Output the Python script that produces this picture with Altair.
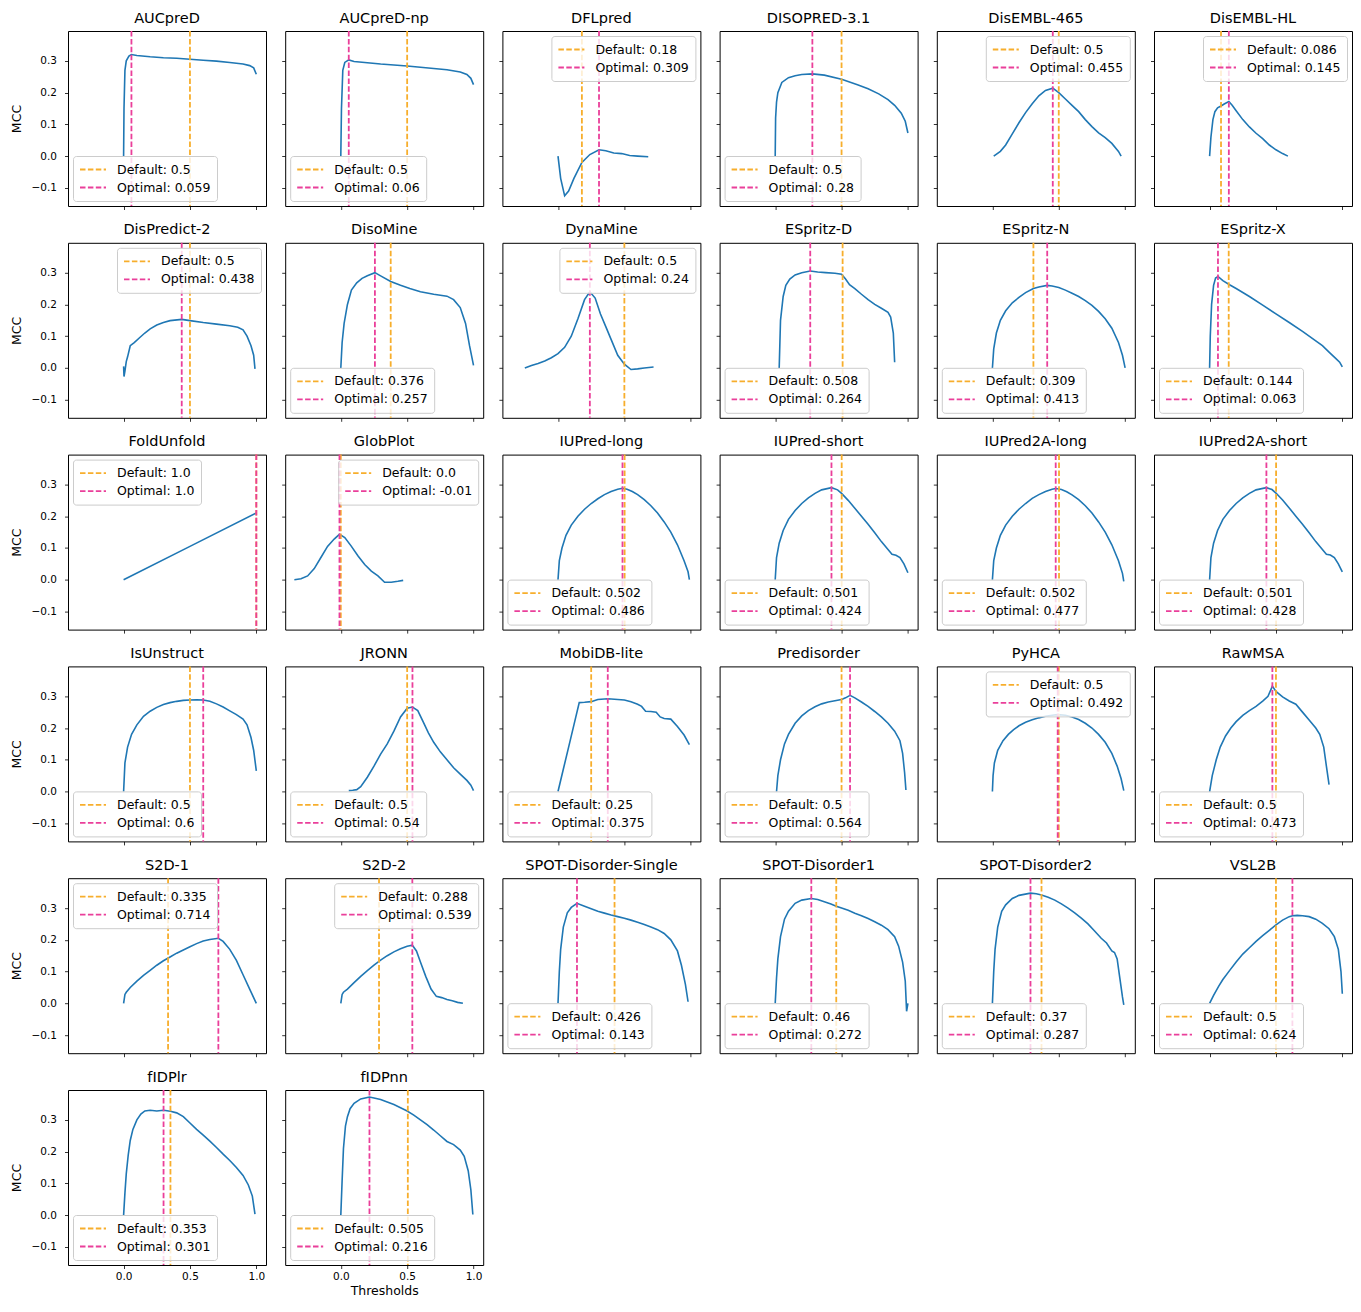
import altair as alt
import pandas as pd

NAMES = ["AUCpreD", "AUCpreD-np", "DFLpred", "DISOPRED-3.1", "DisEMBL-465", "DisEMBL-HL",
         "DisPredict-2", "DisoMine", "DynaMine", "ESpritz-D", "ESpritz-N", "ESpritz-X",
         "FoldUnfold", "GlobPlot", "IUPred-long", "IUPred-short", "IUPred2A-long", "IUPred2A-short",
         "IsUnstruct", "JRONN", "MobiDB-lite", "Predisorder", "PyHCA", "RawMSA",
         "S2D-1", "S2D-2", "SPOT-Disorder-Single", "SPOT-Disorder1", "SPOT-Disorder2", "VSL2B",
         "fIDPlr", "fIDPnn"]
DEFAULTS = [0.5, 0.5, 0.18, 0.5, 0.5, 0.086,
            0.5, 0.376, 0.5, 0.508, 0.309, 0.144,
            1.0, 0.0, 0.502, 0.501, 0.502, 0.501,
            0.5, 0.5, 0.25, 0.5, 0.5, 0.5,
            0.335, 0.288, 0.426, 0.46, 0.37, 0.5,
            0.353, 0.505]
OPTIMALS = [0.059, 0.06, 0.309, 0.28, 0.455, 0.145,
            0.438, 0.257, 0.24, 0.264, 0.413, 0.063,
            1.0, -0.01, 0.486, 0.424, 0.477, 0.428,
            0.6, 0.54, 0.375, 0.564, 0.492, 0.473,
            0.714, 0.539, 0.143, 0.272, 0.287, 0.624,
            0.301, 0.216]
LEGEND_LOC = ["ll", "ll", "ur", "ll", "ur", "ur",
              "ur", "ll", "ur", "ll", "ll", "ll",
              "ul", "ur", "ll", "ll", "ll", "ll",
              "ll", "ll", "ll", "ll", "ur", "ll",
              "ul", "ur", "ll", "ll", "ll", "ll",
              "ll", "ll"]

x_aucpred = [0.0, 0.003, 0.01, 0.02, 0.04, 0.059, 0.1, 0.2, 0.3, 0.4, 0.5, 0.6, 0.7, 0.8, 0.9, 0.95, 0.98, 1.0]
y_aucpred = [0.0, 0.15, 0.27, 0.30, 0.315, 0.32, 0.317, 0.313, 0.31, 0.308, 0.305, 0.302, 0.299, 0.295, 0.29, 0.285, 0.278, 0.258]
x_aucpred_np = [0.0, 0.005, 0.015, 0.03, 0.06, 0.1, 0.2, 0.3, 0.4, 0.5, 0.6, 0.7, 0.8, 0.9, 0.95, 0.98, 1.0]
y_aucpred_np = [0.0, 0.15, 0.27, 0.295, 0.303, 0.298, 0.294, 0.29, 0.287, 0.284, 0.28, 0.276, 0.272, 0.265, 0.257, 0.245, 0.225]
x_dflpred = [0.0, 0.02, 0.05, 0.08, 0.12, 0.18, 0.24, 0.309, 0.36, 0.42, 0.48, 0.54, 0.6, 0.68]
y_dflpred = [0.0, -0.07, -0.125, -0.11, -0.07, -0.02, 0.005, 0.02, 0.017, 0.01, 0.008, 0.002, 0.0, -0.002]
x_disopred = [0.0, 0.003, 0.01, 0.02, 0.05, 0.1, 0.15, 0.2, 0.28, 0.37, 0.5, 0.62, 0.7, 0.78, 0.85, 0.9, 0.95, 0.98, 1.0]
y_disopred = [0.0, 0.12, 0.17, 0.2, 0.232, 0.247, 0.253, 0.257, 0.259, 0.255, 0.242, 0.225, 0.212, 0.196, 0.178, 0.16, 0.135, 0.11, 0.073]
x_disembl465 = [0.01, 0.06, 0.1, 0.15, 0.2, 0.25, 0.3, 0.35, 0.4, 0.455, 0.5, 0.55, 0.6, 0.65, 0.7, 0.75, 0.8, 0.85, 0.9, 0.95, 0.97]
y_disembl465 = [0.0, 0.015, 0.035, 0.07, 0.105, 0.137, 0.165, 0.19, 0.207, 0.214, 0.2, 0.18, 0.16, 0.14, 0.115, 0.093, 0.073, 0.058, 0.04, 0.015, 0.0]
x_disemblhl = [0.0, 0.01, 0.025, 0.04, 0.06, 0.086, 0.11, 0.145, 0.17, 0.2, 0.25, 0.3, 0.35, 0.4, 0.45, 0.5, 0.55, 0.59]
y_disemblhl = [0.0, 0.06, 0.115, 0.14, 0.152, 0.158, 0.164, 0.172, 0.16, 0.143, 0.115, 0.092, 0.072, 0.055, 0.035, 0.02, 0.008, 0.0]
x_dispredict2 = [0.0, 0.003, 0.01, 0.02, 0.03, 0.05, 0.08, 0.12, 0.16, 0.2, 0.25, 0.3, 0.35, 0.438, 0.5, 0.6, 0.7, 0.8, 0.86, 0.9, 0.93, 0.96, 0.98, 0.99]
y_dispredict2 = [0.005, -0.027, -0.01, 0.02, 0.035, 0.07, 0.08, 0.095, 0.11, 0.123, 0.135, 0.143, 0.149, 0.153, 0.149, 0.143, 0.138, 0.133, 0.128, 0.12, 0.1, 0.07, 0.04, -0.003]
x_disomine = [0.0, 0.01, 0.025, 0.05, 0.08, 0.12, 0.16, 0.2, 0.257, 0.3, 0.376, 0.45, 0.52, 0.6, 0.7, 0.8, 0.85, 0.9, 0.94, 0.97, 1.0]
y_disomine = [0.0, 0.08, 0.14, 0.2, 0.245, 0.268, 0.282, 0.29, 0.3, 0.29, 0.272, 0.26, 0.25, 0.24, 0.232, 0.226, 0.215, 0.19, 0.14, 0.07, 0.008]
x_dynamine = [-0.25, -0.2, -0.15, -0.1, -0.05, 0.0, 0.05, 0.1, 0.15, 0.2, 0.24, 0.28, 0.32, 0.36, 0.4, 0.45, 0.5, 0.55, 0.6, 0.65, 0.72]
y_dynamine = [0.0, 0.008, 0.014, 0.022, 0.032, 0.045, 0.065, 0.1, 0.155, 0.215, 0.24, 0.22, 0.17, 0.13, 0.09, 0.04, 0.012, -0.005, -0.003, 0.0, 0.003]
x_espritzd = [0.03, 0.04, 0.06, 0.08, 0.11, 0.15, 0.2, 0.264, 0.32, 0.38, 0.45, 0.5, 0.53, 0.56, 0.6, 0.65, 0.7, 0.75, 0.8, 0.85, 0.87, 0.89, 0.9]
y_espritzd = [0.0, 0.15, 0.225, 0.26, 0.28, 0.293, 0.3, 0.305, 0.302, 0.3, 0.298, 0.295, 0.28, 0.262, 0.25, 0.232, 0.215, 0.2, 0.188, 0.175, 0.16, 0.11, 0.018]
x_espritzn = [0.0, 0.01, 0.03, 0.06, 0.1, 0.15, 0.2, 0.25, 0.309, 0.35, 0.413, 0.45, 0.5, 0.55, 0.6, 0.65, 0.7, 0.75, 0.8, 0.85, 0.9, 0.95, 0.98, 1.0]
y_espritzn = [0.0, 0.06, 0.11, 0.15, 0.18, 0.205, 0.222, 0.237, 0.25, 0.255, 0.26, 0.258, 0.253, 0.245, 0.235, 0.225, 0.212, 0.197, 0.178, 0.155, 0.125, 0.08, 0.04, 0.0]
x_espritzx = [0.0, 0.005, 0.015, 0.03, 0.045, 0.063, 0.1, 0.15, 0.2, 0.3, 0.4, 0.5, 0.6, 0.7, 0.8, 0.85, 0.9, 0.95, 0.98, 1.0]
y_espritzx = [0.0, 0.1, 0.2, 0.26, 0.283, 0.288, 0.275, 0.262, 0.25, 0.225, 0.198, 0.17, 0.143, 0.115, 0.085, 0.07, 0.05, 0.03, 0.018, 0.003]
x_foldunfold = [0.0, 0.5, 1.0]
y_foldunfold = [0.0, 0.105, 0.21]
x_globplot = [-0.35, -0.3, -0.25, -0.2, -0.15, -0.1, -0.05, -0.01, 0.03, 0.08, 0.13, 0.18, 0.23, 0.28, 0.33, 0.38, 0.43, 0.47]
y_globplot = [0.0, 0.003, 0.012, 0.035, 0.07, 0.105, 0.128, 0.143, 0.133, 0.105, 0.075, 0.048, 0.027, 0.012, -0.008, -0.008, -0.005, -0.002]
x_iupredlong = [0.0, 0.01, 0.03, 0.06, 0.1, 0.15, 0.2, 0.25, 0.3, 0.35, 0.4, 0.45, 0.486, 0.52, 0.56, 0.6, 0.65, 0.7, 0.75, 0.8, 0.85, 0.9, 0.95, 0.98, 0.99]
y_iupredlong = [0.0, 0.06, 0.1, 0.14, 0.172, 0.2, 0.222, 0.24, 0.255, 0.268, 0.278, 0.285, 0.288, 0.285, 0.278, 0.268, 0.252, 0.233, 0.21, 0.182, 0.15, 0.11, 0.06, 0.025, 0.0]
x_iupredshort = [0.0, 0.01, 0.03, 0.06, 0.1, 0.15, 0.2, 0.25, 0.3, 0.35, 0.424, 0.47, 0.5, 0.55, 0.6, 0.65, 0.7, 0.75, 0.8, 0.85, 0.88, 0.91, 0.94, 0.97, 1.0]
y_iupredshort = [0.0, 0.07, 0.115, 0.155, 0.19, 0.218, 0.24, 0.258, 0.272, 0.283, 0.29, 0.283, 0.272, 0.25, 0.225, 0.2, 0.175, 0.148, 0.12, 0.095, 0.08, 0.077, 0.07, 0.05, 0.022]
x_iupred2along = [0.0, 0.01, 0.03, 0.06, 0.1, 0.15, 0.2, 0.25, 0.3, 0.35, 0.4, 0.45, 0.477, 0.52, 0.56, 0.6, 0.65, 0.7, 0.75, 0.8, 0.85, 0.9, 0.95, 0.98, 0.99]
y_iupred2along = [0.0, 0.06, 0.1, 0.14, 0.172, 0.2, 0.222, 0.24, 0.256, 0.268, 0.278, 0.285, 0.287, 0.284, 0.277, 0.267, 0.252, 0.233, 0.21, 0.182, 0.15, 0.11, 0.06, 0.02, -0.005]
x_iupred2ashort = [0.0, 0.01, 0.03, 0.06, 0.1, 0.15, 0.2, 0.25, 0.3, 0.35, 0.428, 0.47, 0.5, 0.55, 0.6, 0.65, 0.7, 0.75, 0.8, 0.85, 0.88, 0.91, 0.94, 0.97, 1.0]
y_iupred2ashort = [0.0, 0.07, 0.115, 0.155, 0.19, 0.218, 0.24, 0.258, 0.272, 0.283, 0.29, 0.284, 0.273, 0.251, 0.226, 0.2, 0.175, 0.148, 0.12, 0.095, 0.08, 0.078, 0.07, 0.05, 0.025]
x_isunstruct = [0.0, 0.01, 0.03, 0.06, 0.1, 0.15, 0.2, 0.25, 0.3, 0.35, 0.4, 0.45, 0.5, 0.55, 0.6, 0.65, 0.7, 0.75, 0.8, 0.85, 0.9, 0.93, 0.96, 0.98, 1.0]
y_isunstruct = [0.0, 0.09, 0.14, 0.18, 0.21, 0.237, 0.253, 0.265, 0.274, 0.28, 0.284, 0.287, 0.288, 0.289, 0.288, 0.284, 0.276, 0.266, 0.254, 0.242, 0.228, 0.21, 0.17, 0.13, 0.065]
x_jronn = [0.06, 0.09, 0.12, 0.15, 0.2, 0.25, 0.3, 0.35, 0.4, 0.45, 0.5, 0.54, 0.58, 0.62, 0.66, 0.7, 0.75, 0.8, 0.85, 0.9, 0.95, 0.98, 1.0]
y_jronn = [0.003, 0.004, 0.006, 0.015, 0.045, 0.08, 0.118, 0.15, 0.19, 0.235, 0.262, 0.266, 0.255, 0.22, 0.185, 0.155, 0.125, 0.1, 0.075, 0.055, 0.035, 0.02, 0.003]
x_mobidblite = [0.0, 0.04, 0.08, 0.12, 0.16, 0.2, 0.25, 0.3, 0.375, 0.45, 0.5, 0.55, 0.6, 0.63, 0.66, 0.7, 0.74, 0.77, 0.8, 0.85, 0.9, 0.95, 0.99]
y_mobidblite = [0.0, 0.07, 0.14, 0.21, 0.28, 0.281, 0.283, 0.29, 0.292, 0.29, 0.288, 0.283, 0.275, 0.268, 0.253, 0.252, 0.25, 0.235, 0.23, 0.228, 0.205, 0.178, 0.148]
x_predisorder = [0.01, 0.02, 0.04, 0.07, 0.1, 0.15, 0.2, 0.25, 0.3, 0.35, 0.4, 0.45, 0.5, 0.53, 0.564, 0.6, 0.65, 0.7, 0.75, 0.8, 0.85, 0.9, 0.94, 0.96, 0.975, 0.985]
y_predisorder = [0.0, 0.05, 0.1, 0.15, 0.18, 0.215, 0.238, 0.255, 0.267, 0.276, 0.282, 0.286, 0.29, 0.295, 0.303, 0.295, 0.282, 0.268, 0.252, 0.235, 0.215, 0.19, 0.16, 0.12, 0.06, 0.005]
x_pyhca = [0.0, 0.005, 0.015, 0.04, 0.08, 0.12, 0.16, 0.2, 0.25, 0.3, 0.35, 0.4, 0.45, 0.492, 0.55, 0.6, 0.65, 0.7, 0.75, 0.8, 0.85, 0.9, 0.94, 0.97, 0.99]
y_pyhca = [0.0, 0.05, 0.09, 0.13, 0.16, 0.18, 0.195, 0.207, 0.218, 0.226, 0.232, 0.237, 0.24, 0.242, 0.24, 0.235, 0.227, 0.215, 0.2, 0.18, 0.155, 0.12, 0.08, 0.04, 0.003]
x_rawmsa = [0.0, 0.02, 0.05, 0.08, 0.12, 0.16, 0.2, 0.25, 0.3, 0.35, 0.4, 0.44, 0.473, 0.5, 0.55, 0.6, 0.65, 0.7, 0.75, 0.8, 0.83, 0.86, 0.88, 0.9]
y_rawmsa = [0.0, 0.05, 0.1, 0.14, 0.175, 0.2, 0.22, 0.24, 0.255, 0.268, 0.285, 0.3, 0.332, 0.315, 0.298, 0.285, 0.275, 0.25, 0.225, 0.2, 0.18, 0.14, 0.08, 0.022]
x_s2d1 = [0.0, 0.01, 0.02, 0.05, 0.1, 0.15, 0.2, 0.25, 0.3, 0.35, 0.4, 0.45, 0.5, 0.55, 0.6, 0.65, 0.714, 0.75, 0.8, 0.85, 0.9, 0.95, 1.0]
y_s2d1 = [0.0, 0.028, 0.035, 0.05, 0.07, 0.088, 0.104, 0.12, 0.134, 0.146, 0.158, 0.168, 0.178, 0.188, 0.196, 0.201, 0.205, 0.195, 0.17, 0.135, 0.09, 0.045, 0.0]
x_s2d2 = [0.0, 0.01, 0.02, 0.05, 0.1, 0.15, 0.2, 0.25, 0.3, 0.35, 0.4, 0.45, 0.5, 0.539, 0.57, 0.6, 0.64, 0.68, 0.72, 0.76, 0.8, 0.84, 0.88, 0.92]
y_s2d2 = [0.0, 0.028, 0.035, 0.045, 0.065, 0.085, 0.103, 0.12, 0.136, 0.15, 0.162, 0.172, 0.18, 0.183, 0.165, 0.13, 0.085, 0.045, 0.022, 0.018, 0.012, 0.008, 0.003, 0.0]
x_spotsingle = [0.0, 0.01, 0.02, 0.04, 0.07, 0.1, 0.143, 0.2, 0.25, 0.3, 0.35, 0.4, 0.45, 0.5, 0.55, 0.6, 0.65, 0.7, 0.75, 0.8, 0.85, 0.9, 0.93, 0.96, 0.98]
y_spotsingle = [0.0, 0.1, 0.17, 0.24, 0.285, 0.302, 0.315, 0.306, 0.298, 0.29, 0.284, 0.278, 0.273, 0.268, 0.262, 0.255, 0.248, 0.24, 0.232, 0.22, 0.2, 0.165, 0.12, 0.06, 0.005]
x_spot1 = [0.0, 0.01, 0.02, 0.04, 0.07, 0.1, 0.15, 0.2, 0.272, 0.32, 0.37, 0.42, 0.46, 0.5, 0.55, 0.6, 0.65, 0.7, 0.75, 0.8, 0.85, 0.9, 0.93, 0.96, 0.98, 0.99, 1.0]
y_spot1 = [0.0, 0.08, 0.14, 0.21, 0.265, 0.29, 0.315, 0.325, 0.33, 0.327, 0.32, 0.313, 0.306, 0.3, 0.293, 0.284, 0.276, 0.267, 0.257, 0.246, 0.232, 0.21, 0.18, 0.13, 0.07, -0.025, 0.0]
x_spot2 = [0.0, 0.01, 0.02, 0.04, 0.07, 0.1, 0.15, 0.2, 0.287, 0.33, 0.37, 0.42, 0.47, 0.52, 0.57, 0.62, 0.67, 0.72, 0.77, 0.82, 0.86, 0.9, 0.92, 0.94, 0.96, 0.98, 0.99]
y_spot2 = [0.0, 0.1, 0.17, 0.24, 0.29, 0.31, 0.33, 0.34, 0.347, 0.345, 0.341, 0.334, 0.325, 0.313, 0.3, 0.285, 0.268, 0.25, 0.228, 0.205, 0.19, 0.165, 0.16, 0.14, 0.08, 0.02, -0.005]
x_vsl2b = [0.0, 0.03, 0.07, 0.1, 0.15, 0.2, 0.25, 0.3, 0.35, 0.4, 0.45, 0.5, 0.55, 0.6, 0.624, 0.66, 0.7, 0.75, 0.8, 0.85, 0.9, 0.94, 0.97, 0.99, 1.0]
y_vsl2b = [0.0, 0.025, 0.055, 0.075, 0.103, 0.13, 0.155, 0.175, 0.195, 0.213, 0.23, 0.247, 0.262, 0.273, 0.276, 0.277, 0.276, 0.273, 0.265, 0.252, 0.235, 0.21, 0.17, 0.1, 0.03]
x_fidplr = [0.0, 0.01, 0.02, 0.035, 0.05, 0.07, 0.1, 0.13, 0.16, 0.2, 0.25, 0.301, 0.353, 0.4, 0.45, 0.5, 0.55, 0.6, 0.65, 0.7, 0.75, 0.8, 0.85, 0.9, 0.94, 0.97, 0.99]
y_fidplr = [0.0, 0.07, 0.13, 0.19, 0.235, 0.27, 0.3, 0.318, 0.328, 0.33, 0.328, 0.33, 0.327, 0.322, 0.31, 0.29, 0.27, 0.252, 0.233, 0.213, 0.192, 0.172, 0.15, 0.125, 0.095, 0.06, 0.003]
x_fidpnn = [0.0, 0.01, 0.02, 0.035, 0.05, 0.07, 0.1, 0.15, 0.216, 0.25, 0.3, 0.35, 0.4, 0.45, 0.5, 0.55, 0.6, 0.65, 0.7, 0.75, 0.8, 0.85, 0.9, 0.93, 0.96, 0.98, 0.995]
y_fidpnn = [0.0, 0.11, 0.21, 0.28, 0.31, 0.335, 0.352, 0.366, 0.372, 0.369, 0.364, 0.356, 0.348, 0.338, 0.328, 0.315, 0.3, 0.285, 0.268, 0.25, 0.232, 0.222, 0.205, 0.185, 0.14, 0.08, 0.002]

CURVES = [(x_aucpred, y_aucpred), (x_aucpred_np, y_aucpred_np), (x_dflpred, y_dflpred),
          (x_disopred, y_disopred), (x_disembl465, y_disembl465), (x_disemblhl, y_disemblhl),
          (x_dispredict2, y_dispredict2), (x_disomine, y_disomine), (x_dynamine, y_dynamine),
          (x_espritzd, y_espritzd), (x_espritzn, y_espritzn), (x_espritzx, y_espritzx),
          (x_foldunfold, y_foldunfold), (x_globplot, y_globplot), (x_iupredlong, y_iupredlong),
          (x_iupredshort, y_iupredshort), (x_iupred2along, y_iupred2along), (x_iupred2ashort, y_iupred2ashort),
          (x_isunstruct, y_isunstruct), (x_jronn, y_jronn), (x_mobidblite, y_mobidblite),
          (x_predisorder, y_predisorder), (x_pyhca, y_pyhca), (x_rawmsa, y_rawmsa),
          (x_s2d1, y_s2d1), (x_s2d2, y_s2d2), (x_spotsingle, y_spotsingle),
          (x_spot1, y_spot1), (x_spot2, y_spot2), (x_vsl2b, y_vsl2b),
          (x_fidplr, y_fidplr), (x_fidpnn, y_fidpnn)]

X_DOMAIN = [-0.419, 1.073]
Y_DOMAIN = [-0.157, 0.394]
X_TICKS = [0.0, 0.5, 1.0]
Y_TICKS = [-0.1, 0.0, 0.1, 0.2, 0.3]

LINE_COLOR = "#1f77b4"
DEFAULT_COLOR = "#f7ae2c"
OPTIMAL_COLOR = "#ea3f9a"
ORIENT = {"ll": "bottom-left", "ur": "top-right", "ul": "top-left"}
FONT = "DejaVu Sans"
NCOLS = 6
N = len(NAMES)

panels = []
for i, name in enumerate(NAMES):
    xs, ys = CURVES[i]
    col = i % NCOLS
    bottom = i >= N - 2
    curve_df = pd.DataFrame({"t": xs, "mcc": ys})
    lab_d = f"Default: {DEFAULTS[i]}"
    lab_o = f"Optimal: {OPTIMALS[i]}"
    rule_df = pd.DataFrame({"t": [DEFAULTS[i], OPTIMALS[i]], "lab": [lab_d, lab_o]})

    x_axis = alt.Axis(values=X_TICKS, format=".1f", labels=bottom,
                      title="Thresholds" if i == N - 1 else None)
    y_axis = alt.Axis(values=Y_TICKS, format=".1f", labels=(col == 0),
                      title="MCC" if col == 0 else None)
    x_scale = alt.Scale(domain=X_DOMAIN, nice=False, zero=False)
    y_scale = alt.Scale(domain=Y_DOMAIN, nice=False, zero=False)

    line = alt.Chart(curve_df).mark_line(color=LINE_COLOR, strokeWidth=1.6).encode(
        x=alt.X("t:Q", scale=x_scale, axis=x_axis),
        y=alt.Y("mcc:Q", scale=y_scale, axis=y_axis),
    )
    rules = alt.Chart(rule_df).mark_rule(strokeWidth=1.8, strokeDash=[5.5, 2.4]).encode(
        x=alt.X("t:Q", scale=x_scale),
        color=alt.Color("lab:N",
                        scale=alt.Scale(domain=[lab_d, lab_o], range=[DEFAULT_COLOR, OPTIMAL_COLOR]),
                        legend=alt.Legend(orient=ORIENT[LEGEND_LOC[i]], title=None)),
    )
    panel = alt.layer(line, rules).properties(width=198, height=175, title=name)
    panels.append(panel)

chart = alt.concat(*panels, columns=NCOLS, spacing={"row": 36.8, "column": 19.2}, bounds="flush") \
    .resolve_scale(color="independent") \
    .resolve_legend(color="independent") \
    .properties(padding={"left": 1, "top": 2, "right": 0, "bottom": 0}) \
    .configure_view(stroke="black", strokeWidth=1) \
    .configure_axis(domain=False, grid=False, tickColor="black", tickSize=3.5, tickWidth=0.8,
                    labelFont=FONT, labelFontSize=10.5, labelColor="black",
                    titleFont=FONT, titleFontSize=12.5, titleFontWeight="normal", titleColor="black") \
    .configure_axisY(titlePadding=8, labelPadding=8) \
    .configure_axisX(titlePadding=2, labelPadding=3) \
    .configure_title(font=FONT, fontSize=14.5, fontWeight="normal", color="black",
                     anchor="middle", frame="group", offset=4) \
    .configure_legend(padding=6, offset=5, rowPadding=3, clipHeight=15, symbolSize=676,
                      symbolStrokeWidth=1.8, symbolDash=[5.5, 2.4], symbolType="stroke",
                      labelOffset=10, labelFont=FONT, labelFontSize=12.5, labelColor="black",
                      labelLimit=300, fillColor="rgba(255,255,255,0.8)", strokeColor="#cccccc",
                      cornerRadius=3)

chart.save("out.html", embed_options={"renderer": "svg", "actions": False})
